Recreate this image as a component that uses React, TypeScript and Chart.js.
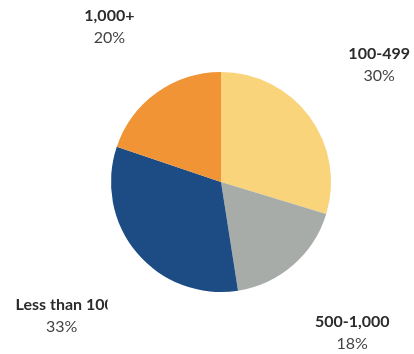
import React, { useEffect, useRef } from "react";
import { Chart, registerables } from "chart.js";

Chart.register(...registerables);

const categories = ["100-499", "500-1,000", "Less than 100", "1,000+"];
const values = [30, 18, 33, 20];
const percentLabels = ["30%", "18%", "33%", "20%"];
const colors = ["#F9D47A", "#A8ACA9", "#1C4C83", "#F19435"];

const LABEL_BOX = 92;

const outsideLabels = {
  id: "outsideLabels",
  afterDatasetsDraw(chart: any) {
    const ctx = chart.ctx;
    const meta = chart.getDatasetMeta(0);
    ctx.save();
    meta.data.forEach((arc: any, i: number) => {
      const mid = (arc.startAngle + arc.endAngle) / 2;
      const dx = Math.cos(mid);
      const dy = Math.sin(mid);
      ctx.font = "bold 16px Lato";
      const w1 = ctx.measureText(categories[i]).width;
      ctx.font = "16px Lato";
      const w2 = ctx.measureText(percentLabels[i]).width;
      const halfW = Math.min(Math.max(w1, w2), LABEL_BOX) / 2;
      const halfH = 22;
      const extent = Math.abs(dx) * halfW + Math.abs(dy) * halfH;
      const dist = arc.outerRadius + 49 + extent;
      const cx = arc.x + dx * dist;
      const cy = arc.y + dy * dist;
      ctx.textBaseline = "middle";
      ctx.fillStyle = "#2b2b2b";
      ctx.font = "bold 16px Lato";
      if (w1 > LABEL_BOX) {
        ctx.save();
        ctx.beginPath();
        ctx.rect(cx - LABEL_BOX / 2, cy - 22, LABEL_BOX, 22);
        ctx.clip();
        ctx.textAlign = "left";
        ctx.fillText(categories[i], cx - LABEL_BOX / 2, cy - 11);
        ctx.restore();
      } else {
        ctx.textAlign = "center";
        ctx.fillText(categories[i], cx, cy - 11);
      }
      ctx.textAlign = "center";
      ctx.fillStyle = "#444444";
      ctx.font = "16px Lato";
      ctx.fillText(percentLabels[i], cx, cy + 11);
    });
    ctx.restore();
  },
};

export default function App() {
  const ref = useRef<HTMLCanvasElement>(null);
  useEffect(() => {
    document.body.style.margin = "0";
    const chart = new Chart(ref.current!, {
      type: "pie",
      data: {
        labels: categories,
        datasets: [
          {
            data: values,
            backgroundColor: colors,
            borderWidth: 0,
          },
        ],
      },
      options: {
        responsive: false,
        animation: false,
        events: [],
        layout: { padding: { left: 111, right: 83, top: 72, bottom: 62 } },
        plugins: {
          legend: { display: false },
          tooltip: { enabled: false },
        },
      },
      plugins: [outsideLabels],
    });
    return () => chart.destroy();
  }, []);
  return (
    <div style={{ width: 414, height: 354, background: "#fff" }}>
      <canvas ref={ref} width={414} height={354} />
    </div>
  );
}
